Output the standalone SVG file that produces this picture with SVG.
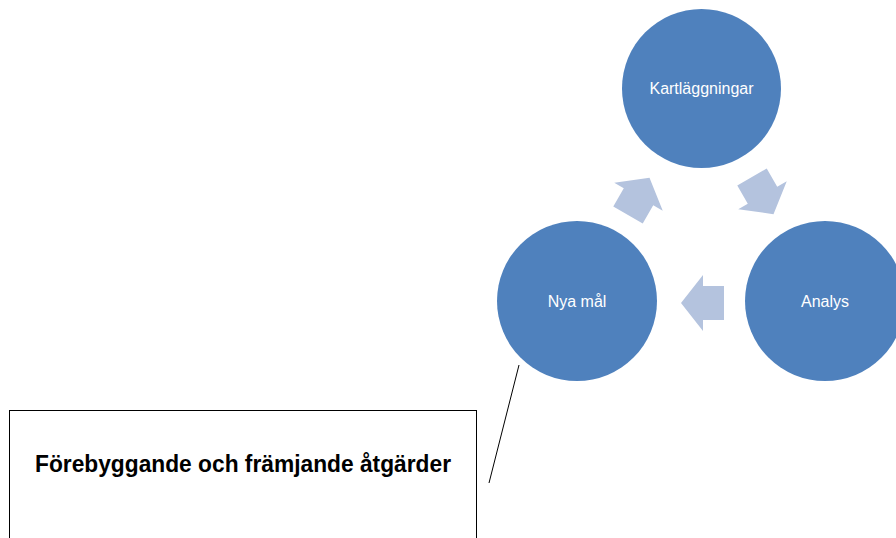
<svg xmlns="http://www.w3.org/2000/svg" width="896" height="538" viewBox="0 0 896 538">
<style>
.node{fill:#4F81BD;}
.lbl{font-family:"Liberation Sans",Arial,sans-serif;font-size:16px;fill:#FFFFFF;text-anchor:middle;}
.arr{fill:#B4C3DE;}
.box{fill:#FFFFFF;stroke:#000000;stroke-width:1;}
.btxt{font-family:"Liberation Sans",Arial,sans-serif;font-size:23px;font-weight:bold;fill:#000000;}
</style>
<defs>
<path id="la" d="M-21,0 L1,-28 L1,-17 L22,-17 L22,17 L1,17 L1,28 Z"/>
</defs>
<rect width="896" height="538" fill="#FFFFFF"/>
<g id="connectors">
<use href="#la" class="arr" transform="translate(639,196) rotate(120)"/>
<use href="#la" class="arr" transform="translate(763,196) rotate(240)"/>
<use href="#la" class="arr" transform="translate(702,303)"/>
<line x1="519" y1="365" x2="489" y2="483" stroke="#000000" stroke-width="1"/>
</g>
<g id="kartlaggningar">
<circle class="node" cx="701.5" cy="88.5" r="79.5"/>
<text class="lbl" x="701.5" y="94">Kartläggningar</text>
</g>
<g id="analys">
<circle class="node" cx="825" cy="301" r="80"/>
<text class="lbl" x="825" y="307">Analys</text>
</g>
<g id="nya-mal">
<circle class="node" cx="577" cy="301" r="80"/>
<text class="lbl" x="577" y="307">Nya mål</text>
</g>
<g id="atgarder">
<rect class="box" x="9.5" y="410.5" width="467" height="140"/>
<text class="btxt" x="35" y="472" textLength="416" lengthAdjust="spacingAndGlyphs">Förebyggande och främjande åtgärder</text>
</g>
</svg>
